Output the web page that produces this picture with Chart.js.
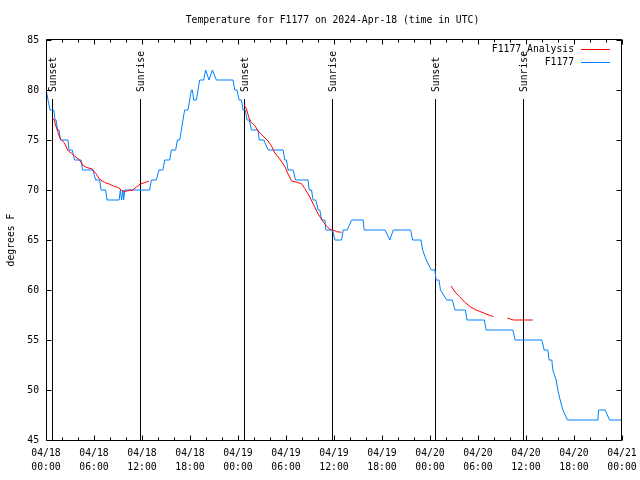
<!DOCTYPE html>
<html>
<head>
<meta charset="utf-8">
<title>Temperature for F1177</title>
<script src="https://cdn.jsdelivr.net/npm/chart.js@4"></script>
<style>
  html, body { margin: 0; padding: 0; background: #fff; }
  #tempChart { display: block; }
</style>
</head>
<body>
<canvas id="tempChart" width="640" height="480"></canvas>
<script>
// hours since 04/18 00:00 UTC
const stationHours = [
  0.03, 0.25, 0.50, 0.98, 1.13, 1.25, 1.44, 1.63, 1.81, 2.75, 2.88, 3.28, 3.57, 4.38, 4.57, 5.86,
  6.20, 6.70, 6.88, 7.45, 7.63, 9.14, 9.29, 9.45, 9.61, 9.70, 9.86, 12.95, 13.17, 13.79, 14.12, 14.62,
  14.83, 15.46, 15.67, 16.21, 16.42, 16.71, 16.92, 17.12, 17.33, 17.75, 17.96, 18.17, 18.30, 18.46, 18.80, 19.00,
  19.21, 19.71, 19.96, 20.38, 20.80, 21.30, 23.38, 23.59, 23.88, 24.13, 24.43, 24.63, 24.91, 25.13, 25.41, 25.68,
  26.51, 26.66, 27.22, 27.76, 29.64, 29.85, 30.06, 30.26, 30.89, 31.19, 32.77, 32.89, 33.19, 33.39, 33.73, 34.02,
  34.23, 34.44, 34.86, 34.98, 35.82, 36.11, 36.95, 37.15, 37.65, 38.20, 39.65, 39.77, 42.37, 42.99, 43.40, 45.58,
  45.83, 46.87, 47.08, 47.53, 48.16, 48.62, 48.75, 49.12, 49.31, 50.09, 50.78, 51.13, 52.42, 52.63, 54.79, 55.01,
  58.35, 58.64, 61.98, 62.27, 62.73, 62.89, 63.23, 63.35, 63.77, 63.98, 64.27, 64.61, 65.18, 68.99, 69.06, 69.90,
  70.44, 72.00
];
const stationTemps = [
  80, 79, 78, 78, 77, 77, 76, 76, 75, 75, 74, 74, 73, 73, 72, 72,
  71, 71, 70, 70, 69, 69, 70, 69, 70, 69, 70, 70, 71, 71, 72, 72,
  73, 73, 74, 74, 75, 75, 76, 77, 78, 78, 79, 80, 80, 79, 79, 80,
  81, 81, 82, 81, 82, 81, 81, 80, 80, 79, 79, 78, 78, 77, 77, 76,
  76, 75, 75, 74, 74, 73, 73, 72, 72, 71, 71, 70, 70, 69, 69, 68,
  68, 67, 67, 66, 66, 65, 65, 66, 66, 67, 67, 66, 66, 65, 66, 66,
  65, 65, 64, 63, 62, 62, 61, 61, 60, 59, 59, 58, 58, 57, 57, 56,
  56, 55, 55, 54, 54, 53, 53, 52, 51, 50, 49, 48, 47, 47, 48, 48,
  47, 47
];

// analysis curve, null = gap
const analysisHours = [
  0.73, 0.98, 1.28, 1.60, 1.81, 2.32, 2.73, 3.15, 3.57, 4.19, 4.69, 5.11, 5.78, 6.28, 6.70, 7.32,
  7.95, 8.57, 8.99, 9.41, 9.70, 10.24, 10.86, 11.29, 11.79, 12.33, 12.87,
  18.0,
  24.76, 25.06, 25.38, 25.68, 26.10, 26.51, 27.13, 27.76, 28.19, 28.60, 29.22, 29.85, 30.26, 30.69, 31.31, 31.94,
  32.35, 32.98, 33.61, 34.02, 34.64, 35.14, 35.48, 36.11, 36.32, 36.95,
  42.0,
  48.62, 48.80,
  49.5,
  50.63, 51.13, 51.68, 52.38, 53.00, 53.63, 54.26, 54.88, 55.51, 55.92,
  56.8,
  57.67, 58.01, 58.42, 60.85
];
const analysisTemps = [
  77.2, 77.1, 76.3, 75.5, 75.1, 74.7, 73.95, 73.7, 73.4, 73.0, 72.4, 72.25, 72.1, 71.6, 71.07, 70.75,
  70.58, 70.35, 70.27, 70.0, 69.83, 69.93, 70.0, 70.3, 70.6, 70.73, 70.9,
  null,
  78.5, 78.1, 77.2, 76.73, 76.45, 75.9, 75.4, 74.9, 74.4, 73.7, 73.1, 72.35, 71.6, 70.9, 70.78, 70.63,
  70.15, 69.3, 68.25, 67.6, 66.83, 66.33, 66.07, 65.93, 65.83, 65.77,
  null,
  62.35, 62.45,
  null,
  60.4, 59.8, 59.35, 58.75, 58.35, 58.05, 57.85, 57.65, 57.45, 57.35,
  null,
  57.2, 57.1, 57.0, 57.0
];

const sunHours = [0.73, 11.74, 24.76, 35.77, 48.66, 59.67];
const sunLabels = ["Sunset", "Sunrise", "Sunset", "Sunrise", "Sunset", "Sunrise"];

const xTickDates = ["04/18", "04/18", "04/18", "04/18", "04/19", "04/19", "04/19", "04/19", "04/20", "04/20", "04/20", "04/20", "04/21"];
const xTickTimes = ["00:00", "06:00", "12:00", "18:00", "00:00", "06:00", "12:00", "18:00", "00:00", "06:00", "12:00", "18:00", "00:00"];
const yTickValues = [45, 50, 55, 60, 65, 70, 75, 80, 85];

const seriesNames = ["F1177_Analysis", "F1177"];
const seriesColors = ["#ff0000", "#0080ff"];

const FONT = "'DejaVu Sans Mono', 'Liberation Mono', monospace";
const FONT_SIZE = 9.75;

Chart.defaults.font.family = FONT;
Chart.defaults.font.size = FONT_SIZE;
Chart.defaults.color = "#000";

function toPoints(hours, temps) {
  return hours.map((h, i) => ({ x: h, y: temps[i] }));
}

const sunMarkers = {
  id: "sunMarkers",
  beforeDatasetsDraw(chart) {
    const { ctx, chartArea, scales } = chart;
    ctx.save();
    ctx.strokeStyle = "#000";
    ctx.lineWidth = 1;
    ctx.fillStyle = "#000";
    ctx.font = `${FONT_SIZE}px ${FONT}`;
    sunHours.forEach((h, i) => {
      const px = Math.round(scales.x.getPixelForValue(h)) + 0.5;
      ctx.beginPath();
      ctx.moveTo(px, 99);
      ctx.lineTo(px, chartArea.bottom);
      ctx.stroke();

      ctx.save();
      ctx.translate(px + 1, 92);
      ctx.rotate(-Math.PI / 2);
      ctx.textAlign = "left";
      ctx.textBaseline = "middle";
      ctx.fillText(sunLabels[i], 0, 0);
      ctx.restore();
    });
    ctx.restore();
  },
};

const frameAndExtras = {
  id: "frameAndExtras",
  afterDraw(chart) {
    const { ctx, chartArea: a, scales } = chart;
    const left = Math.round(a.left) + 0.5;
    const right = Math.round(a.right) - 0.5;
    const top = Math.round(a.top) - 0.5;
    const bottom = Math.round(a.bottom) + 0.5;

    ctx.save();
    ctx.strokeStyle = "#000";
    ctx.lineWidth = 1;
    ctx.beginPath();
    ctx.rect(left, top, right - left, bottom - top);

    // x tics, mirrored on top
    for (let h = 0; h <= 72; h += 2) {
      const px = Math.round(scales.x.getPixelForValue(h)) + 0.5;
      const len = h % 6 === 0 ? 5 : 3;
      ctx.moveTo(px, bottom);
      ctx.lineTo(px, bottom - len);
      ctx.moveTo(px, top);
      ctx.lineTo(px, top + len);
    }
    // y tics, mirrored on the right
    yTickValues.forEach((v) => {
      const py = Math.round(scales.y.getPixelForValue(v)) + 0.5;
      ctx.moveTo(left, py);
      ctx.lineTo(left + 5, py);
      ctx.moveTo(right, py);
      ctx.lineTo(right - 5, py);
    });
    ctx.stroke();

    ctx.fillStyle = "#000";
    ctx.font = `${FONT_SIZE}px ${FONT}`;
    ctx.textBaseline = "middle";

    ctx.textAlign = "center";
    ctx.fillText("Temperature for F1177 on 2024-Apr-18 (time in UTC)", 332.5, 20);

    // key, gnuplot style: text then sample
    const keyRows = [49.5, 62.5];
    seriesNames.forEach((name, i) => {
      ctx.textAlign = "right";
      ctx.fillStyle = "#000";
      ctx.fillText(name, 574, keyRows[i]);
      ctx.strokeStyle = seriesColors[i];
      ctx.beginPath();
      ctx.moveTo(581, keyRows[i]);
      ctx.lineTo(610, keyRows[i]);
      ctx.stroke();
    });
    ctx.restore();
  },
};

new Chart(document.getElementById("tempChart"), {
  type: "line",
  data: {
    datasets: [
      {
        label: seriesNames[0],
        data: toPoints(analysisHours, analysisTemps),
        borderColor: seriesColors[0],
        borderWidth: 1,
        pointRadius: 0,
        tension: 0,
        spanGaps: false,
      },
      {
        label: seriesNames[1],
        data: toPoints(stationHours, stationTemps),
        borderColor: seriesColors[1],
        borderWidth: 1,
        pointRadius: 0,
        tension: 0,
      },
    ],
  },
  options: {
    responsive: false,
    animation: false,
    devicePixelRatio: 1,
    layout: { padding: { top: 40, right: 18, left: 0, bottom: 0 } },
    plugins: {
      legend: { display: false },
      tooltip: { enabled: false },
    },
    scales: {
      x: {
        type: "linear",
        min: 0,
        max: 72,
        grid: { display: false, drawTicks: false },
        border: { display: false },
        afterFit: (scale) => {
          scale.height = 40;
          scale.paddingLeft = 0;
          scale.paddingRight = 0;
        },
        ticks: {
          stepSize: 6,
          maxRotation: 0,
          autoSkip: false,
          padding: 7,
          font: { lineHeight: 1.37 },
          callback: (value, index) => [xTickDates[index], xTickTimes[index]],
        },
      },
      y: {
        min: 45,
        max: 85,
        grid: { display: false, drawTicks: false },
        border: { display: false },
        afterFit: (scale) => { scale.width = 46; },
        ticks: { stepSize: 5, padding: 7 },
        title: {
          display: true,
          text: "degrees F",
          padding: { top: 6, bottom: 4 },
        },
      },
    },
  },
  plugins: [sunMarkers, frameAndExtras],
});
</script>
</body>
</html>
